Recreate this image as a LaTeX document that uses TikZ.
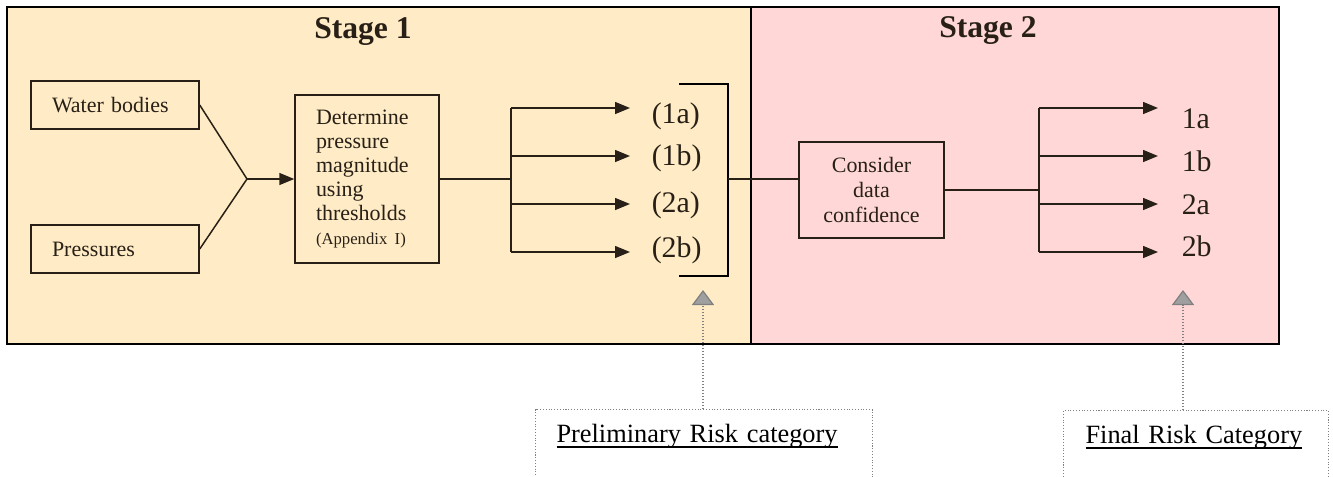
\documentclass[tikz,border=0pt]{standalone}
\usepackage{fontspec}
\setmainfont{Liberation Serif}
\usetikzlibrary{arrows.meta}

\definecolor{peach}{RGB}{255,236,198}
\definecolor{pinkbg}{RGB}{255,215,215}
\definecolor{ink}{RGB}{40,32,22}

\newcommand{\ulabel}[1]{\setbox0\hbox{#1}\rlap{\rule[-3.2pt]{\wd0}{1pt}}\box0}

\begin{document}
\begin{tikzpicture}[
        x=0.02cm, y=-0.02cm,
        color=ink,
        line width=0.85pt,
        inbox/.style={draw, inner ysep=0pt, inner xsep=0.42cm, text width=2.52cm, minimum height=0.96cm, align=left, font=\fontsize{12.5}{14}\selectfont},
        stepbox/.style={draw, inner ysep=0pt, inner xsep=0.42cm, text width=2.04cm, minimum height=3.36cm, align=left, font=\fontsize{12.5}{13.6}\selectfont},
        confbox/.style={draw, inner ysep=0pt, inner xsep=0.1cm, text width=2.7cm, minimum height=1.92cm, align=center, font=\fontsize{12.5}{14.2}\selectfont},
        cat/.style={anchor=base west, inner sep=0pt, font=\fontsize{17}{20}\selectfont},
        title/.style={anchor=base, inner sep=0pt, font=\bfseries\fontsize{18}{20}\selectfont},
        note/.style={draw=gray, densely dotted, line width=0.6pt, anchor=north west, align=left, inner ysep=0pt, text height=0.66cm, text depth=2cm, text=black, font=\fontsize{15}{17}\selectfont},
        flow/.style={-{Triangle[length=0.3cm, width=0.24cm]}},
        pointer/.style={draw=gray, densely dotted, line width=0.7pt, -{Triangle[length=0.3cm, width=0.44cm, fill=gray!75]}}
    ]
    \useasboundingbox (0,0) rectangle (1333,477);

    % Stages
    \fill[peach] (7,7) rectangle (751,344);
    \fill[pinkbg] (751,7) rectangle (1279,344);
    \draw[black, line width=1.1pt] (7,7) rectangle (1279,344);
    \draw[black, line width=1.1pt] (751,7) -- (751,344);

    % Nodes
    \node (stage1)[title] at (363,38) {Stage 1};
    \node (stage2)[title] at (988,37) {Stage 2};

    \node (water)[inbox] at (115,105) {Water bodies};
    \node (pressures)[inbox] at (115,249) {Pressures};
    \node (determine)[stepbox] at (367,179) {Determine\\ pressure\\ magnitude\\ using\\ thresholds\\ {\fontsize{9.5}{11}\selectfont (Appendix I)}};

    \node (p1a)[cat] at (651,123) {(1a)};
    \node (p1b)[cat] at (651,165) {(1b)};
    \node (p2a)[cat] at (651,212) {(2a)};
    \node (p2b)[cat] at (651,257) {(2b)};

    \node (confidence)[confbox] at (871.5,190) {Consider\\ data\\ confidence};

    \node (f1a)[cat] at (1181,128) {1a};
    \node (f1b)[cat] at (1181,171) {1b};
    \node (f2a)[cat] at (1181,214) {2a};
    \node (f2b)[cat] at (1181,256) {2b};

    \node (prelim)[note, inner xsep=0.42cm, text width=5.9cm] at (535,409) {\ulabel{Preliminary Risk category}};
    \node (final)[note, inner xsep=0.44cm, text width=4.42cm] at (1063,410) {\ulabel{Final Risk Category}};

    \coordinate (join) at (247,179);
    \coordinate (fork1) at (511,179);
    \coordinate (fork2) at (1039,190);
    \coordinate (brk) at (728,179);
    \coordinate (brtop) at (679,84);
    \coordinate (brbot) at (679,276);
    \coordinate (ptrA) at (703,290);
    \coordinate (ptrB) at (1183,290);

    % Edges
    \draw (water.east) -- (join) -- (pressures.east);
    \draw[flow] (join) -- (determine.west);
    \draw (determine.east) -- (fork1);
    \foreach \i/\y in {1/108,2/156,3/204,4/252} {
        \coordinate (pa\i) at (630,\y);
        \coordinate (fa\i) at (1158,\y);
        \draw[flow] (pa\i -| fork1) -- (pa\i);
        \draw[flow] (fa\i -| fork2) -- (fa\i);
    }
    \draw (pa1 -| fork1) -- (pa4 -| fork1);
    \draw (fa1 -| fork2) -- (fa4 -| fork2);

    \draw[black] (brtop) -- ++(49,0) |- (brbot);
    \draw (brk) -- (brk -| confidence.west);
    \draw (confidence.east) -- (fork2);

    \draw[pointer] (ptrA |- prelim.north) -- (ptrA);
    \draw[pointer] (ptrB |- final.north) -- (ptrB);

\end{tikzpicture}
\end{document}
